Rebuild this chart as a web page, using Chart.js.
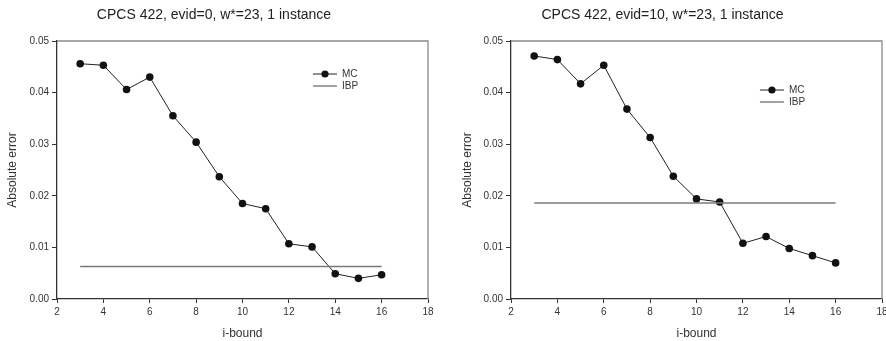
<!DOCTYPE html>
<html>
<head>
<meta charset="utf-8">
<script src="https://cdn.jsdelivr.net/npm/chart.js@4/dist/chart.umd.min.js"></script>
<style>
  body { margin: 0; background: #fff; }
  .wrap { position: absolute; top: 0; width: 443px; height: 341px; overflow: hidden; }
  #w1 { left: 0; }
  #w2 { left: 443px; }
</style>
</head>
<body>
<div class="wrap" id="w1"><canvas id="c1" width="443" height="341"></canvas></div>
<div class="wrap" id="w2"><canvas id="c2" width="454" height="341"></canvas></div>
<script>
// i-bound values on the x axis
var iBound = [3, 4, 5, 6, 7, 8, 9, 10, 11, 12, 13, 14, 15, 16];

// absolute error, evid=0
var mcEvid0 = [0.0456, 0.0453, 0.0406, 0.0430, 0.0355, 0.0304, 0.0237, 0.0185, 0.0175, 0.0107, 0.0101, 0.0049, 0.0040, 0.0047];
var ibpEvid0 = 0.0063;

// absolute error, evid=10
var mcEvid10 = [0.0471, 0.0464, 0.0417, 0.0453, 0.0368, 0.0313, 0.0238, 0.0194, 0.0188, 0.0108, 0.0121, 0.0098, 0.0084, 0.0070];
var ibpEvid10 = 0.0186;

var titles = ["CPCS 422, evid=0, w*=23, 1 instance", "CPCS 422, evid=10, w*=23, 1 instance"];

var FONT = "'Liberation Sans', Arial, sans-serif";

// box round the plot + legend inside it
var framePlugin = {
    id: 'frame',
    afterDraw: function(chart, args, opts) {
        var ctx = chart.ctx, a = chart.chartArea;
        ctx.save();
        ctx.strokeStyle = '#8a8a8a';
        ctx.lineWidth = 1.3;
        ctx.beginPath();
        ctx.moveTo(a.left, a.top);
        ctx.lineTo(a.right, a.top);
        ctx.lineTo(a.right, a.bottom);
        ctx.stroke();

        // legend
        var lx = a.left + opts.lx * (a.right - a.left);
        var ly = a.top + opts.ly * (a.bottom - a.top);
        ctx.strokeStyle = '#222';
        ctx.lineWidth = 1;
        ctx.beginPath();
        ctx.moveTo(lx, ly);
        ctx.lineTo(lx + 24, ly);
        ctx.stroke();
        ctx.fillStyle = '#111';
        ctx.beginPath();
        ctx.arc(lx + 12, ly, 3.6, 0, Math.PI * 2);
        ctx.fill();
        ctx.strokeStyle = '#444';
        ctx.beginPath();
        ctx.moveTo(lx, ly + 12);
        ctx.lineTo(lx + 24, ly + 12);
        ctx.stroke();
        ctx.font = '10px ' + FONT;
        ctx.fillStyle = '#333';
        ctx.textBaseline = 'middle';
        ctx.fillText('MC', lx + 29, ly);
        ctx.fillText('IBP', lx + 29, ly + 12);
        ctx.restore();
    }
};

function makechart(id, title, mc, ibp, yWidth, yTitlePad, legendPos) {
    var ctx = document.getElementById(id);
    var mcData = iBound.map(function(x, i) { return {x: x, y: mc[i]}; });
    var ibpData = [{x: iBound[0], y: ibp}, {x: iBound[iBound.length - 1], y: ibp}];
    return new Chart(ctx, {
        type: 'line',
        data: {
            datasets: [{
                label: 'IBP',
                data: ibpData,
                borderColor: '#7a7a7a',
                borderWidth: 1.5,
                pointRadius: 0,
                fill: false
            }, {
                label: 'MC',
                data: mcData,
                borderColor: '#222',
                borderWidth: 1,
                pointRadius: 3.8,
                pointBackgroundColor: '#111',
                pointBorderColor: '#111',
                pointBorderWidth: 0,
                tension: 0,
                fill: false
            }]
        },
        options: {
            responsive: false,
            animation: false,
            layout: { padding: { left: 0, right: 15, top: 0, bottom: 0 } },
            plugins: {
                legend: { display: false },
                tooltip: { enabled: false },
                title: {
                    display: true,
                    text: title,
                    color: '#222',
                    font: { family: FONT, size: 14, weight: 'normal' },
                    padding: { top: 6.6, bottom: 17.6 }
                },
                frame: legendPos
            },
            scales: {
                x: {
                    type: 'linear',
                    min: 2, max: 18,
                    ticks: { stepSize: 2, color: '#333', font: { family: FONT, size: 10 }, padding: 3, maxRotation: 0 },
                    grid: { display: true, drawOnChartArea: false, drawTicks: true, tickLength: 4, color: '#333' },
                    border: { display: true, color: '#333', width: 1.3 },
                    title: { display: true, text: 'i-bound', color: '#333', font: { family: FONT, size: 12 }, padding: { top: 0, bottom: 0 } },
                    afterFit: function(s) { s.height = 42; }
                },
                y: {
                    min: 0, max: 0.05,
                    ticks: { stepSize: 0.01, color: '#333', font: { family: FONT, size: 10 }, padding: 3,
                        callback: function(v) { return v.toFixed(2); } },
                    grid: { display: true, drawOnChartArea: false, drawTicks: true, tickLength: 5, color: '#333' },
                    border: { display: true, color: '#333', width: 1.3 },
                    title: { display: true, text: 'Absolute error', color: '#333', font: { family: FONT, size: 12 }, padding: { top: yTitlePad, bottom: 0 } },
                    afterFit: function(s) { s.width = yWidth; }
                }
            }
        },
        plugins: [framePlugin]
    });
}

makechart('c1', titles[0], mcEvid0, ibpEvid0, 57, 5.8, { lx: 0.69, ly: 0.128 });
makechart('c2', titles[1], mcEvid10, ibpEvid10, 68, 17.8, { lx: 0.671, ly: 0.19 });
</script>
</body>
</html>
